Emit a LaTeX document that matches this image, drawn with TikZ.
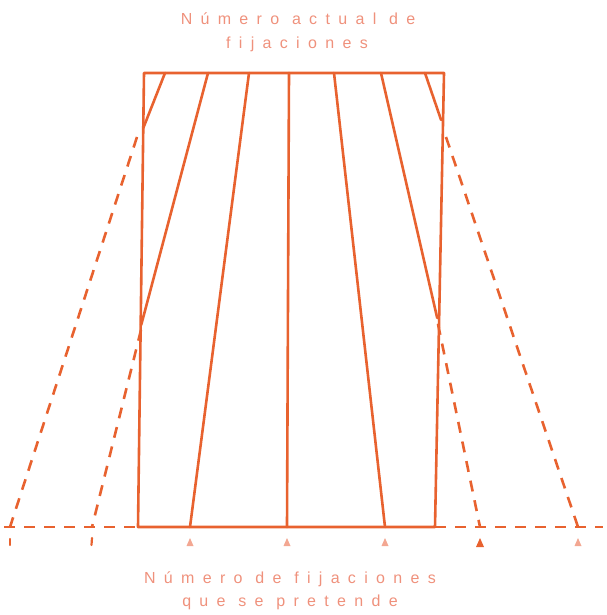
\documentclass[tikz,border=0pt]{standalone}
\usepackage{fontspec}
\newfontfamily\lblfont[LetterSpace=52]{Liberation Sans}
\definecolor{lineor}{HTML}{E8622F}
\definecolor{textor}{HTML}{EF917C}
\definecolor{markor}{HTML}{F3A792}
\begin{document}
\begin{tikzpicture}[x=1pt,y=-1pt,
  solid line/.style={draw=lineor,line width=2.6pt,line cap=round,line join=round},
  dash line/.style={draw=lineor,line width=2.6pt,dash pattern=on 11pt off 9pt},
  lbl/.style={text=textor,font=\lblfont\fontsize{16}{16}\selectfont,inner sep=0pt,anchor=center},
  tri/.style={fill=markor,draw=none},
  tick/.style={draw=lineor,line width=2.2pt,line cap=round}]
\useasboundingbox (0,0) rectangle (606,615);
% rectangle corners
\coordinate (TL) at (144,73);
\coordinate (TR) at (444,73);
\coordinate (BL) at (138,527);
\coordinate (BR) at (435,527);
% top points
\coordinate (t1) at (165,73);
\coordinate (t2) at (208,73);
\coordinate (t3) at (249,73);
\coordinate (t4) at (289,73);
\coordinate (t5) at (334,73);
\coordinate (t6) at (381,73);
\coordinate (t7) at (425,73);
% side points
\coordinate (l1) at (143.3,128);
\coordinate (l2) at (141.2,325);
\coordinate (r1) at (441.1,120);
\coordinate (r2) at (437.2,318);
% bottom points
\coordinate (b3) at (190,527);
\coordinate (b4) at (287,527);
\coordinate (b5) at (385,527);
% dashed line starts/ends
\coordinate (dl1s) at (137,137);
\coordinate (dl1e) at (10,527);
\coordinate (dl2s) at (141,330);
\coordinate (dl2e) at (92,527);
\coordinate (dr1s) at (446,137);
\coordinate (dr1e) at (578,527);
\coordinate (dr2s) at (438,324);
\coordinate (dr2e) at (480,527);
\coordinate (hl0) at (4,527);
\coordinate (hr0) at (603,527);
% rectangle
\draw[solid line] (TL) -- (TR) -- (BR) -- (BL) -- cycle;
% fan lines
\draw[solid line] (t1) -- (l1);
\draw[solid line] (t2) -- (l2);
\draw[solid line] (t3) -- (b3);
\draw[solid line] (t4) -- (b4);
\draw[solid line] (t5) -- (b5);
\draw[solid line] (t6) -- (r2);
\draw[solid line] (t7) -- (r1);
% dashed projections
\draw[dash line] (dl1s) -- (dl1e);
\draw[dash line] (dl2s) -- (dl2e);
\draw[dash line] (dr1s) -- (dr1e);
\draw[dash line] (dr2s) -- (dr2e);
\draw[dash line] (hl0) -- (BL);
\draw[dash line] (BR) -- (hr0);
% marks below the base line
\draw[tick] (10,539) -- (10,545);
\draw[tick] (92,538) -- (91.5,545);
\foreach \xx in {190,287,385,578}{
  \fill[tri] (\xx-3.5,546) -- (\xx+3.5,546) -- (\xx,538) -- cycle;
}
\fill[lineor] (476,547) -- (484,547) -- (480,538) -- cycle;
% labels
\node[lbl] (top1) at (298,19) {Número actual de};
\node[lbl] (top2) at (297,44) {fijaciones};
\node[lbl] (bot1) at (290,579) {Número de fijaciones};
\node[lbl] (bot2) at (290,602) {que se pretende};
\end{tikzpicture}
\end{document}
